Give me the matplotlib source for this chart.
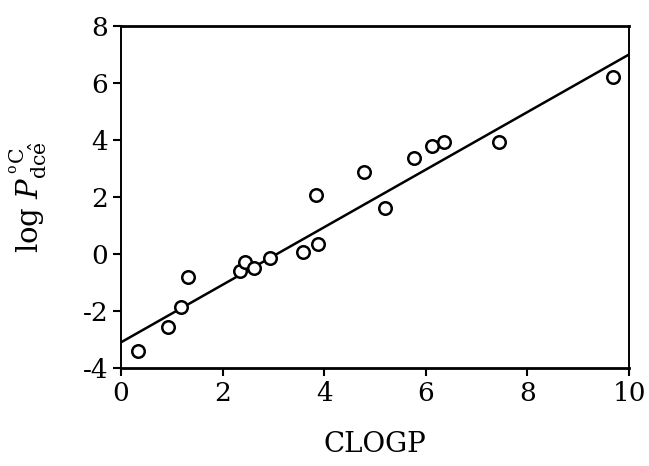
import numpy as np
import matplotlib.pyplot as plt

# Data.
clogp = [0.33, 0.92, 1.19, 1.31, 2.34, 2.45, 2.62, 2.93, 3.58, 3.88,
         3.83, 4.79, 5.20, 5.76, 6.12, 6.35, 7.44, 9.69]
logp = [-3.40, -2.55, -1.87, -0.80, -0.59, -0.29, -0.48, -0.15, 0.06, 0.35,
        2.07, 2.89, 1.62, 3.38, 3.80, 3.92, 3.92, 6.22]

# Regression line.
fit_slope = 1.01
fit_intercept = -3.10
fit_range = [0.0, 9.98]

xticks = [0, 2, 4, 6, 8, 10]
yticks = [-4, -2, 0, 2, 4, 6, 8]

plt.rcParams["font.family"] = ["DejaVu Serif"]
plt.rcParams["mathtext.fontset"] = "dejavuserif"
plt.rcParams["axes.unicode_minus"] = False

fig = plt.figure(figsize=(6.49, 4.66), dpi=100)
ax = fig.add_axes([0.1864, 0.2103, 0.7828, 0.7339])

xs = np.array(fit_range)
ax.plot(xs, fit_intercept + fit_slope * xs, color="black", lw=1.8)
ax.plot(clogp, logp, "o", ms=9, mfc="white", mec="black", mew=1.8)

ax.set_xlim(0, 10)
ax.set_ylim(-4, 8)
ax.set_xticks(xticks)
ax.set_yticks(yticks)
ax.tick_params(direction="out", length=6, width=1.5, labelsize=19, pad=3)

for side in ["left", "right"]:
    ax.spines[side].set_linewidth(1.4)
for side in ["top", "bottom"]:
    ax.spines[side].set_linewidth(2.0)

ax.set_xlabel("CLOGP", fontsize=20, labelpad=18)
ax.set_ylabel(r"log $P_{\mathrm{dc\hat{e}}}^{\,^{\mathrm{o}}\mathrm{C}}$",
              fontsize=21, labelpad=24)

plt.savefig("out.png", dpi=100, facecolor="w")
plt.close()
